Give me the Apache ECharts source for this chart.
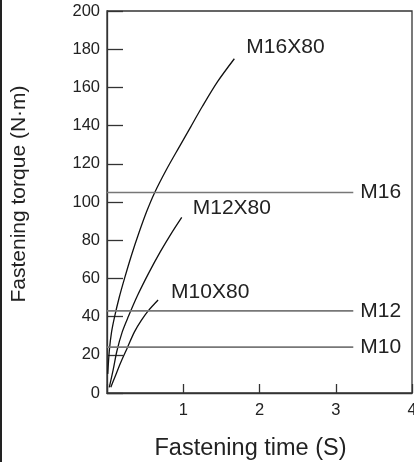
<!DOCTYPE html>
<html><head><meta charset="utf-8">
<script src="https://cdn.jsdelivr.net/npm/echarts@6/dist/echarts.min.js"></script>
<style>html,body{margin:0;padding:0;background:#fff}#c{width:414px;height:462px}</style>
</head><body><div id="c"></div>
<script>
const xTicks = [0, 1, 2, 3, 4];
const yTicks = [0, 20, 40, 60, 80, 100, 120, 140, 160, 180, 200];
const curveNames = ['M16X80', 'M12X80', 'M10X80'];
const m16x80 = [[0.01,10],[0.03,22],[0.06,32],[0.1,40],[0.16,50],[0.23,60],[0.32,72],[0.42,84],[0.52,95],[0.62,104.5],[0.78,117],[0.95,129],[1.1,139.5],[1.25,150],[1.45,163],[1.67,175]];
const m12x80 = [[0.03,3],[0.08,12],[0.13,22],[0.2,32],[0.28,40],[0.4,51],[0.55,63],[0.7,74],[0.85,84],[0.98,92]];
const m10x80 = [[0.05,3],[0.1,8],[0.18,16],[0.27,24],[0.36,32],[0.45,38],[0.54,43],[0.67,48.7]];
const limitNames = ['M16', 'M12', 'M10'];
const limitValues = [105, 43, 24];
const limitEnd = 3.23;

const FONT = 'Liberation Sans, Arial, sans-serif';
const chart = echarts.init(document.getElementById('c'));
const curveData = [m16x80, m12x80, m10x80];
const curveOffsets = [[12, -12], [11, -9], [13, -8]];
const series = [];
curveData.forEach((d, i) => {
  series.push({
    type: 'line', name: curveNames[i], data: d, smooth: 0.3, symbol: 'none',
    lineStyle: {color: '#111', width: 1.3},
    endLabel: {show: true, formatter: curveNames[i], color: '#222', fontSize: 21, fontFamily: FONT,
      offset: curveOffsets[i], align: 'left', verticalAlign: 'middle', distance: 0}
  });
});
limitValues.forEach((v, i) => {
  series.push({
    type: 'line', name: limitNames[i], data: [[0, v], [limitEnd, v]], symbol: 'none',
    lineStyle: {color: '#777', width: 1.6},
    endLabel: {show: true, formatter: limitNames[i], color: '#222', fontSize: 21, fontFamily: FONT,
      offset: [7, 0], align: 'left', verticalAlign: 'middle', distance: 0}
  });
});

chart.setOption({
  animation: false,
  grid: {left: 107, top: 11, right: 2, bottom: 69, show: true, borderColor: '#333', borderWidth: 1.3,
    outerBoundsMode: 'none', containLabel: false},
  xAxis: {
    type: 'value', min: xTicks[0], max: xTicks[xTicks.length - 1], interval: 1,
    name: 'Fastening time (S)', nameLocation: 'middle', nameGap: 44,
    nameTextStyle: {fontSize: 23.5, color: '#222', fontFamily: FONT, padding: [0, 18, 0, 0]},
    axisLine: {show: true, lineStyle: {color: '#333', width: 1.3}},
    axisTick: {show: true, inside: true, length: 9, lineStyle: {color: '#333', width: 1.3}},
    axisLabel: {fontSize: 16.5, color: '#222', fontFamily: FONT, margin: 9,
      formatter: v => (v === 0 ? '' : String(v))},
    splitLine: {show: false}
  },
  yAxis: {
    type: 'value', min: yTicks[0], max: yTicks[yTicks.length - 1], interval: 20,
    name: 'Fastening torque (N·m)', nameLocation: 'middle', nameGap: 77,
    nameTextStyle: {fontSize: 21, color: '#222', fontFamily: FONT, padding: [0, 0, 0, 16]},
    axisLine: {show: true, lineStyle: {color: '#333', width: 1.3}},
    axisTick: {show: true, inside: true, length: 16, lineStyle: {color: '#333', width: 1.3}},
    axisLabel: {fontSize: 16.5, color: '#222', fontFamily: FONT, margin: 7},
    splitLine: {show: false}
  },
  graphic: [{type: 'line', shape: {x1: 1, y1: 0, x2: 1, y2: 462}, style: {stroke: '#222', lineWidth: 2}}],
  series: series
});
</script></body></html>
